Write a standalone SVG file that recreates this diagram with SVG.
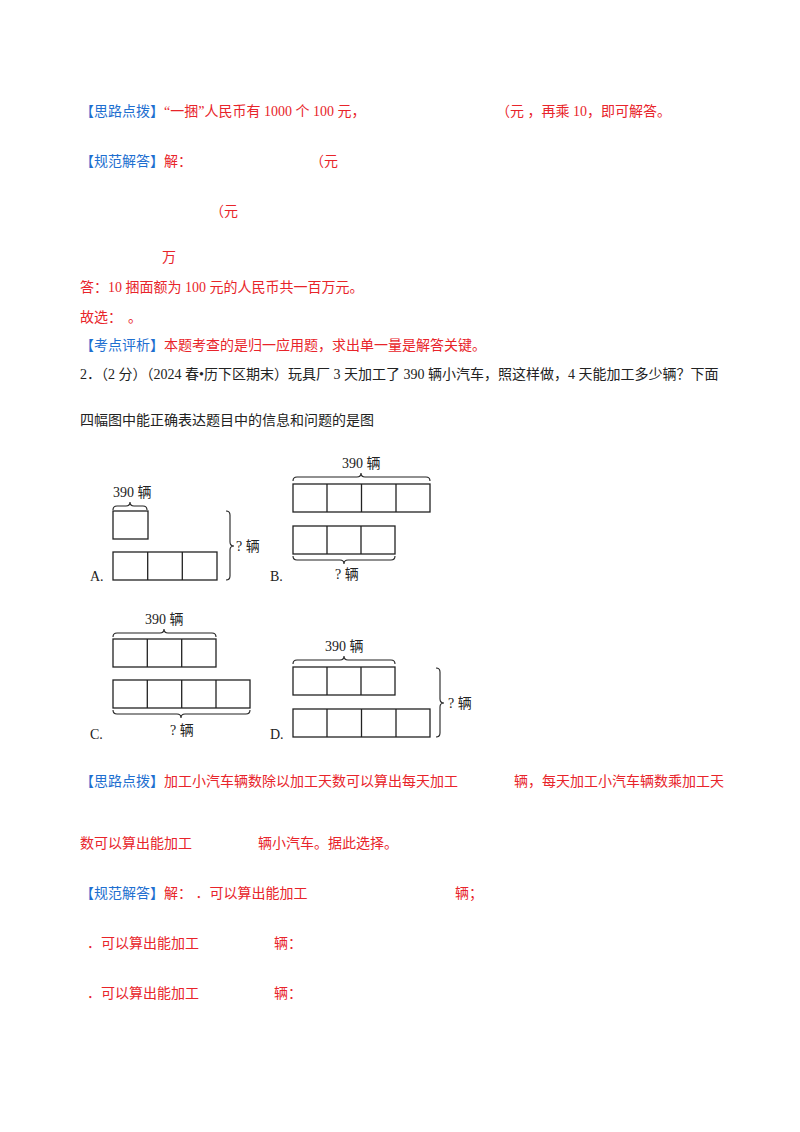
<svg xmlns="http://www.w3.org/2000/svg" width="800" height="1132" viewBox="0 0 800 1132">
<style>
text{font-family:"Liberation Serif","Noto Sans CJK SC",serif;font-size:14px}
.r{fill:#e8242a}.b{fill:#1e6fd0}.k{fill:#222}
.bx{fill:none;stroke:#222;stroke-width:1.3}
.br{fill:none;stroke:#222;stroke-width:1.1}
</style>
<rect width="800" height="1132" fill="#fff"/>
<g id="text">
<text x="80" y="116"><tspan class="b">【思路点拨】</tspan><tspan class="r">“一捆”人民币有 1000 个 100 元，</tspan></text>
<text x="496" y="116" class="r">（元 ，再乘 10，即可解答。</text>
<text x="80" y="166"><tspan class="b">【规范解答】</tspan><tspan class="r">解：</tspan></text>
<text x="310" y="166" class="r">（元</text>
<text x="210" y="216" class="r">（元</text>
<text x="162" y="262" class="r">万</text>
<text x="80" y="292" class="r">答：10 捆面额为 100 元的人民币共一百万元。</text>
<text x="80" y="322" class="r">故选：</text>
<text x="128" y="322" class="r">。</text>
<text x="80" y="350"><tspan class="b">【考点评析】</tspan><tspan class="r">本题考查的是归一应用题，求出单一量是解答关键。</tspan></text>
<text x="80" y="379" class="k">2．（2 分）（2024 春•历下区期末）玩具厂 3 天加工了 390 辆小汽车，照这样做，4 天能加工多少辆？下面</text>
<text x="80" y="425" class="k">四幅图中能正确表达题目中的信息和问题的是图</text>
<text x="80" y="786"><tspan class="b">【思路点拨】</tspan><tspan class="r">加工小汽车辆数除以加工天数可以算出每天加工</tspan></text>
<text x="514" y="786" class="r">辆，每天加工小汽车辆数乘加工天</text>
<text x="80" y="848" class="r">数可以算出能加工</text>
<text x="258" y="848" class="r">辆小汽车。据此选择。</text>
<text x="80" y="898"><tspan class="b">【规范解答】</tspan><tspan class="r">解：  ．可以算出能加工</tspan></text>
<text x="455" y="898" class="r">辆；</text>
<text x="87" y="948" class="r">．可以算出能加工</text>
<text x="274" y="948" class="r">辆：</text>
<text x="87" y="998" class="r">．可以算出能加工</text>
<text x="274" y="998" class="r">辆：</text>
</g>
<g id="figA">
<rect class="bx" x="113" y="511" width="35" height="28"/>
<rect class="bx" x="113" y="552" width="104" height="28"/>
<path class="bx" d="M147.7 552v28M182.3 552v28"/>
<path class="br" d="M113 510q0-4 4-4h9q4 0 4-4q0 4 4 4h9q4 0 4 4"/>
<text x="113" y="497" class="k">390 辆</text>
<path class="br" d="M226 511q4 0 4 4v27q0 4 4 4q-4 0-4 4v26q0 4-4 4"/>
<text x="236" y="551" class="k">? 辆</text>
<text x="90" y="581" class="k">A.</text>
</g>
<g id="figB">
<rect class="bx" x="293" y="484" width="137" height="28"/>
<path class="bx" d="M327 484v28M361.5 484v28M396 484v28"/>
<rect class="bx" x="293" y="526" width="102" height="28"/>
<path class="bx" d="M327 526v28M361 526v28"/>
<path class="br" d="M293 481q0-4 4-4h60q4 0 4-4q0 4 4 4h61q4 0 4 4"/>
<text x="342" y="468" class="k">390 辆</text>
<path class="br" d="M293 556q0 4 4 4h43q4 0 4 4q0-4 4-4h43q4 0 4-4"/>
<text x="335" y="579" class="k">? 辆</text>
<text x="270" y="581" class="k">B.</text>
</g>
<g id="figC">
<rect class="bx" x="113" y="639" width="103" height="28"/>
<path class="bx" d="M147.3 639v28M181.7 639v28"/>
<rect class="bx" x="113" y="680" width="137" height="28"/>
<path class="bx" d="M147.3 680v28M181.7 680v28M216 680v28"/>
<path class="br" d="M113 637q0-4 4-4h43q4 0 4-4q0 4 4 4h44q4 0 4 4"/>
<text x="145" y="624" class="k">390 辆</text>
<path class="br" d="M113 710q0 4 4 4h60q4 0 4 4q0-4 4-4h61q4 0 4-4"/>
<text x="170" y="735" class="k">? 辆</text>
<text x="90" y="739" class="k">C.</text>
</g>
<g id="figD">
<rect class="bx" x="293" y="667" width="102" height="28"/>
<path class="bx" d="M327 667v28M361 667v28"/>
<rect class="bx" x="293" y="709" width="137" height="28"/>
<path class="bx" d="M327 709v28M361.5 709v28M396 709v28"/>
<path class="br" d="M293 664q0-4 4-4h43q4 0 4-4q0 4 4 4h43q4 0 4 4"/>
<text x="325" y="651" class="k">390 辆</text>
<path class="br" d="M436 668q4 0 4 4v27q0 4 4 4q-4 0-4 4v26q0 4-4 4"/>
<text x="448" y="708" class="k">? 辆</text>
<text x="270" y="739" class="k">D.</text>
</g>
<g id="connectors"/>
</svg>
